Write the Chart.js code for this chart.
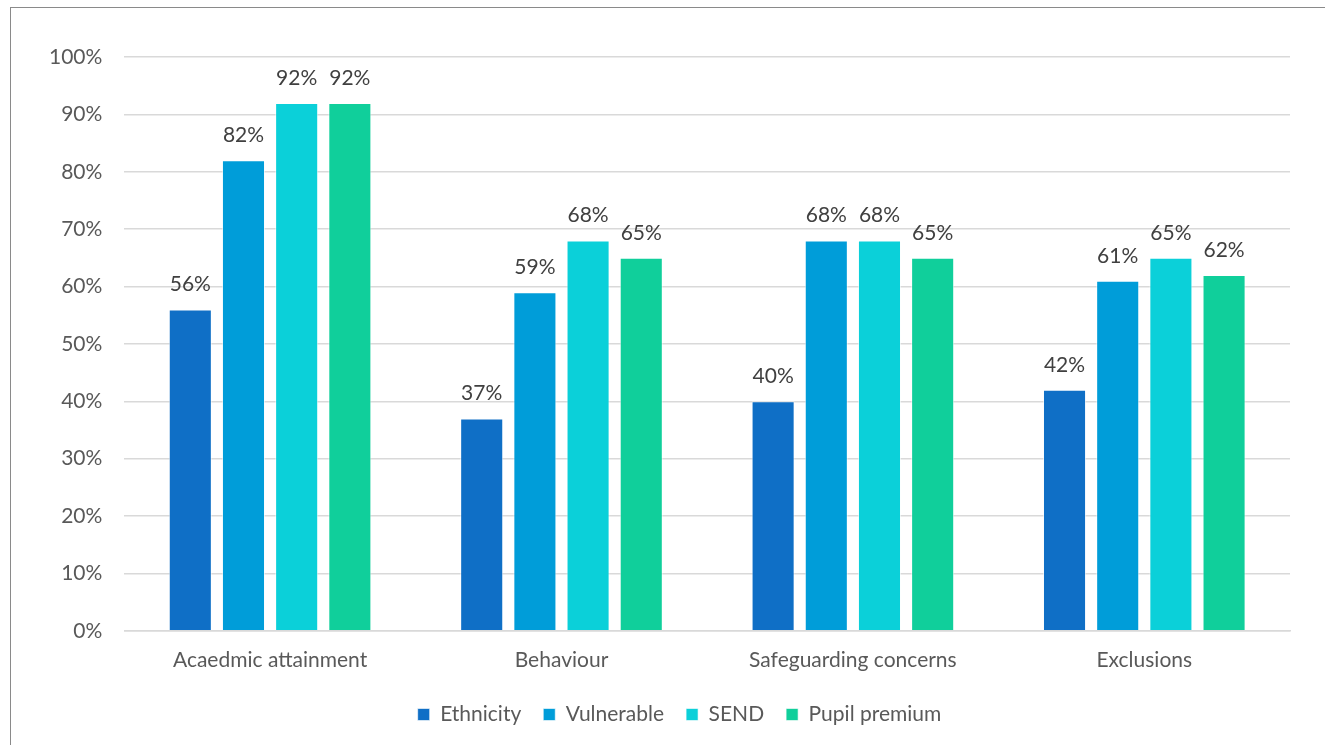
<!DOCTYPE html>
<html>
<head>
<meta charset="utf-8">
<script src="https://cdn.jsdelivr.net/npm/chart.js@4"></script>
<style>
  html, body { margin: 0; padding: 0; background: #fff; overflow: hidden; }
  #frame { position: absolute; left: 10px; top: 7px; width: 1330px; height: 760px; border: 1px solid #8a8a8a; box-sizing: border-box; }
  #wrap { position: absolute; left: 0; top: 0; width: 1325px; height: 745px; }
</style>
</head>
<body>
<div id="frame"></div>
<div id="wrap"><canvas id="chart"></canvas></div>
<script>
const categories = ['Acaedmic attainment', 'Behaviour', 'Safeguarding concerns', 'Exclusions']
const ethnicity = [56, 37, 40, 42]
const vulnerable = [82, 59, 68, 61]
const send = [92, 68, 68, 65]
const pupilPremium = [92, 65, 65, 62]
const yTicks = [0, 10, 20, 30, 40, 50, 60, 70, 80, 90, 100]

const fontFamily = "Lato, 'Open Sans', sans-serif"
const fontSize = 21

// draws the value above each bar, like excel data labels
const barLabels = {
  id: 'barLabels',
  afterDatasetsDraw(chart) {
    const ctx = chart.ctx
    ctx.save()
    ctx.font = fontSize + 'px ' + fontFamily
    ctx.fillStyle = '#404040'
    ctx.textAlign = 'center'
    ctx.textBaseline = 'middle'
    chart.data.datasets.forEach((ds, i) => {
      chart.getDatasetMeta(i).data.forEach((bar, j) => {
        ctx.fillText(ds.data[j] + '%', bar.x, bar.y - 25)
      })
    })
    ctx.restore()
  }
}

// legend in the original sits a bit right of centre
const legendShift = {
  id: 'legendShift',
  afterLayout(chart) {
    chart.legend.left += 21
    chart.legend.right += 21
  }
}

const ds = (label, data, color) => ({
  label, data,
  backgroundColor: color,
  borderColor: 'rgba(255,255,255,0.6)',
  borderWidth: 1,
  categoryPercentage: 0.73,
  barPercentage: 0.81
})

new Chart(document.getElementById('chart'), {
  type: 'bar',
  data: {
    labels: categories,
    datasets: [
      ds('Ethnicity', ethnicity, '#0F6FC6'),
      ds('Vulnerable', vulnerable, '#009DD9'),
      ds('SEND', send, '#0BD0D9'),
      ds('Pupil premium', pupilPremium, '#10CF9B')
    ]
  },
  options: {
    responsive: true,
    maintainAspectRatio: false,
    animation: false,
    layout: { padding: { left: 27, right: 35, top: 57, bottom: 10 } },
    plugins: {
      tooltip: { enabled: false },
      legend: {
        position: 'bottom',
        labels: {
          boxWidth: 12,
          boxHeight: 12,
          padding: 22,
          color: '#595959',
          font: { size: fontSize, family: fontFamily }
        }
      }
    },
    scales: {
      x: {
        grid: { display: false },
        border: { color: '#d9d9d9', width: 1.5 },
        ticks: { color: '#595959', padding: 9, font: { size: fontSize, family: fontFamily } }
      },
      y: {
        min: 0,
        max: 100,
        afterBuildTicks: axis => { axis.ticks = yTicks.map(v => ({value: v})) },
        grid: { color: '#d9d9d9', lineWidth: 1.5, drawTicks: false },
        border: { display: false },
        ticks: {
          color: '#595959',
          padding: 22,
          font: { size: fontSize, family: fontFamily },
          callback: v => v + '%'
        }
      }
    }
  },
  plugins: [barLabels, legendShift]
})
</script>
</body>
</html>
